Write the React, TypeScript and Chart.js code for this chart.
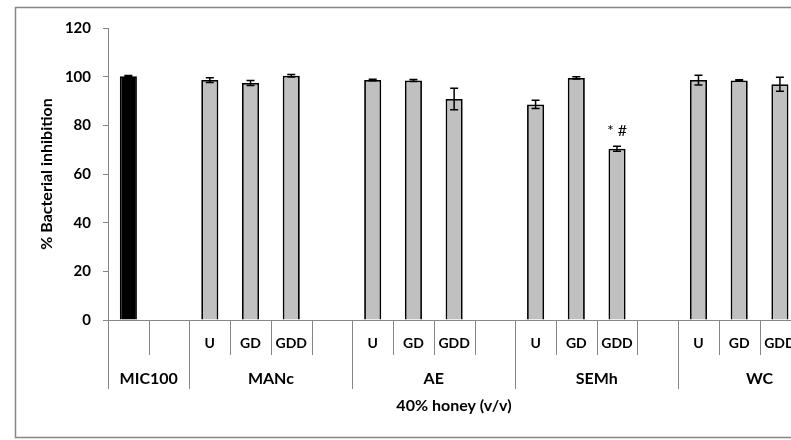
import React, { useEffect, useRef } from "react";
import { Chart, registerables } from "chart.js";

Chart.register(...registerables);

// ---- data ----
const groups = ["MIC100", "MANc", "AE", "SEMh", "WC"];
const subLabels = ["", "", "U", "GD", "GDD", "", "U", "GD", "GDD", "", "U", "GD", "GDD", "", "U", "GD", "GDD", ""];
const groupOf = [0, 0, 1, 1, 1, 1, 2, 2, 2, 2, 3, 3, 3, 3, 4, 4, 4, 4];
const values: (number | null)[] = [100.2, null, 98.6, 97.4, 100.4, null, 98.6, 98.4, 90.8, null, 88.6, 99.5, 70.4, null, 98.6, 98.4, 96.9, null];
const errors: (number | null)[] = [0.3, null, 1.0, 1.0, 0.5, null, 0.3, 0.4, 4.4, null, 1.7, 0.5, 1.0, null, 2.0, 0.3, 2.9, null];
const marks = ["", "", "", "", "", "", "", "", "", "", "", "", "* #", "", "", "", "", ""];
const yMin = 0;
const yMax = 120;
const yStep = 20;
const xTitle = "40% honey (v/v)";
const yTitle = "% Bacterial inhibition";

const FONT = "Lato, 'Open Sans', sans-serif";
const GRAY = "#868686";

const W = 870;
const H = 440;

export default function App() {
  const ref = useRef<HTMLCanvasElement | null>(null);

  useEffect(() => {
    const canvas = ref.current;
    if (!canvas) return;

    const labels = subLabels.map((s, i) => `${groups[groupOf[i]]}|${s}|${i}`);
    const colors = values.map((_, i) => (i === 0 ? "#000000" : "#C0C0C0"));

    const drawPlugin = {
      id: "custom",
      afterDatasetsDraw(chart: any) {
        const ctx = chart.ctx;
        const y = chart.scales.y;
        const meta = chart.getDatasetMeta(0);
        ctx.save();
        // error bars
        ctx.strokeStyle = "#000";
        ctx.lineWidth = 1.5;
        values.forEach((v, i) => {
          const e = errors[i];
          if (v == null || e == null) return;
          const bx = meta.data[i].x;
          const yt = y.getPixelForValue(v + e);
          const yb = y.getPixelForValue(v - e);
          ctx.beginPath();
          ctx.moveTo(bx, yt);
          ctx.lineTo(bx, yb);
          ctx.moveTo(bx - 4, yt);
          ctx.lineTo(bx + 4, yt);
          ctx.moveTo(bx - 4, yb);
          ctx.lineTo(bx + 4, yb);
          ctx.stroke();
        });
        // significance marks
        ctx.fillStyle = "#000";
        ctx.font = `16px ${FONT}`;
        ctx.textAlign = "center";
        ctx.textBaseline = "alphabetic";
        marks.forEach((m, i) => {
          if (!m) return;
          const v = values[i] as number;
          const e = (errors[i] as number) || 0;
          const bx = meta.data[i].x;
          ctx.fillText(m, bx, y.getPixelForValue(v + e) - 10);
        });
        ctx.restore();
      },
      afterDraw(chart: any) {
        const ctx = chart.ctx;
        const x = chart.scales.x;
        const y = chart.scales.y;
        const n = subLabels.length;
        const slot = (x.right - x.left) / n;
        const bottom = y.bottom;
        ctx.save();
        // frame
        ctx.strokeStyle = GRAY;
        ctx.lineWidth = 1.5;
        ctx.strokeRect(15.5, 7.5, W - 30, 430);
        // dividers
        ctx.lineWidth = 1;
        ctx.strokeStyle = GRAY;
        for (let k = 0; k <= n; k++) {
          const px = Math.round(x.left + k * slot) + 0.5;
          const isGroup = k === 0 || k === n || groupOf[k] !== groupOf[k - 1];
          ctx.beginPath();
          ctx.moveTo(px, bottom);
          ctx.lineTo(px, bottom + (isGroup ? 69 : 35));
          ctx.stroke();
        }
        // sub labels
        ctx.fillStyle = "#000";
        ctx.textAlign = "center";
        ctx.textBaseline = "middle";
        ctx.font = `bold 14px ${FONT}`;
        subLabels.forEach((s, i) => {
          if (!s) return;
          ctx.fillText(s, x.getPixelForValue(i), bottom + 23);
        });
        // group labels
        ctx.font = `bold 16px ${FONT}`;
        groups.forEach((g, gi) => {
          const idx = groupOf.map((v, i) => (v === gi ? i : -1)).filter((i) => i >= 0);
          const l = x.left + idx[0] * slot;
          const r = x.left + (idx[idx.length - 1] + 1) * slot;
          ctx.fillText(g, (l + r) / 2, bottom + 59);
        });
        // x title
        ctx.font = `bold 16px ${FONT}`;
        ctx.fillText(xTitle, x.left + (x.right - x.left) * 0.472, bottom + 86);
        // y title
        ctx.translate(47, (y.top + y.bottom) / 2);
        ctx.rotate(-Math.PI / 2);
        ctx.fillText(yTitle, 0, 0);
        ctx.restore();
      },
    };

    const chart = new Chart(canvas, {
      type: "bar",
      data: {
        labels,
        datasets: [
          {
            data: values,
            backgroundColor: colors,
            borderColor: "#000",
            borderWidth: 1.8,
            barPercentage: 0.42,
            categoryPercentage: 1,
          },
        ],
      },
      options: {
        responsive: false,
        animation: false,
        devicePixelRatio: 1,
        layout: { padding: { top: 28, right: W - 841, left: 0, bottom: 0 } },
        plugins: { legend: { display: false }, tooltip: { enabled: false }, title: { display: false } },
        scales: {
          x: {
            type: "category",
            offset: true,
            grid: { display: false },
            border: { display: true, color: GRAY, width: 1 },
            ticks: { display: false },
            afterFit: (s: any) => {
              s.height = H - 320;
            },
          },
          y: {
            min: yMin,
            max: yMax,
            ticks: {
              stepSize: yStep,
              color: "#000",
              padding: 12,
              font: { family: FONT, size: 15, weight: "bold" },
            },
            grid: { display: true, drawOnChartArea: false, drawTicks: true, tickLength: 5, color: GRAY },
            border: { display: true, color: GRAY, width: 1 },
            afterFit: (s: any) => {
              s.width = 108;
            },
          },
        },
      },
      plugins: [drawPlugin],
    } as any);

    return () => chart.destroy();
  }, []);

  return (
    <div style={{ position: "fixed", left: 0, top: 0, width: 791, height: 440, overflow: "hidden", background: "#fff" }}>
      <canvas ref={ref} width={W} height={H} style={{ display: "block", width: W, height: H }} />
    </div>
  );
}
